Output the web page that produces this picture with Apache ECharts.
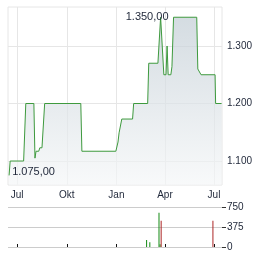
<!DOCTYPE html>
<html><head><meta charset="utf-8">
<script src="https://cdn.jsdelivr.net/npm/echarts@6/dist/echarts.min.js"></script>
<style>html,body{margin:0;padding:0;background:#fff}#c{width:264px;height:255px}</style>
</head><body><div id="c"></div>
<script>
const priceDates = ['2024-06-16','2024-06-18','2024-07-13','2024-07-17','2024-08-01','2024-08-03','2024-08-05','2024-08-10','2024-08-12','2024-08-16','2024-08-21','2024-10-27','2024-10-29','2024-12-31','2025-01-04','2025-01-06','2025-01-07','2025-01-11','2025-01-31','2025-02-02','2025-02-28','2025-03-02','2025-03-19','2025-03-24','2025-03-30','2025-04-03','2025-04-05','2025-04-07','2025-04-12','2025-04-14','2025-04-17','2025-05-30','2025-06-01','2025-06-04','2025-06-07','2025-07-03','2025-07-04','2025-07-15'];
const priceValues = [1075,1100,1100,1200,1200,1105,1117,1117,1123,1123,1200,1200,1117,1117,1133,1149,1149,1173,1173,1200,1200,1270,1270,1350,1250,1250,1300,1250,1250,1264,1350,1350,1260,1260,1250,1250,1200,1200];
const volumeDates = ['2025-02-26','2025-03-04','2025-03-21','2025-03-23','2025-03-25','2025-06-29'];
const volumeValues = [130,90,640,50,490,490];
const volumeDirection = ['up','up','up','up','down','down'];
const xTickDates = ['2024-07-01','2024-10-01','2025-01-01','2025-04-01','2025-07-01'];
const xTickLabels = ['Jul','Okt','Jan','Apr','Jul'];
const yTickValues = [1100,1200,1300];
const volumeTickValues = [0,375,750];
const xRange = ['2024-06-14','2025-07-15T20:00:00'];
const yRange = [1058.3,1367.8];

function ts(s){ return echarts.time.parse(s).getTime(); }
function de(v, dec){
  const s = Number(v).toFixed(dec);
  const parts = s.split('.');
  const i = parts[0].replace(/\B(?=(\d{3})+(?!\d))/g, '.');
  return parts[1] ? i + ',' + parts[1] : i;
}
const xTicks = xTickDates.map(ts);
const font = 'Liberation Sans, Arial, sans-serif';
const txt = '#1e2638';

let maxI = 0, minI = 0;
priceValues.forEach((v,i)=>{ if (v > priceValues[maxI]) maxI = i; if (v < priceValues[minI]) minI = i; });

const chart = echarts.init(document.getElementById('c'), null, {renderer:'canvas'});
chart.setOption({
  animation: false,
  backgroundColor: '#fff',
  grid: [
    {left: 8, right: 42, top: 7, height: 178, show: true, borderColor: '#e6e6e6', borderWidth: 1, backgroundColor: 'transparent', outerBoundsMode: 'none', containLabel: false},
    {left: 8, right: 42, top: 207, height: 40, outerBoundsMode: 'none', containLabel: false}
  ],
  xAxis: [
    {type: 'value', gridIndex: 0, min: ts(xRange[0]), max: ts(xRange[1]),
     axisLine: {show: false}, axisTick: {show: false, customValues: xTicks},
     axisLabel: {customValues: xTicks, margin: 5, fontSize: 10, fontFamily: font, color: txt,
       formatter: v => { const k = xTicks.indexOf(v); return k >= 0 ? xTickLabels[k] : ''; }},
     splitLine: {show: true, lineStyle: {color: '#e6e6e6', width: 1}}},
    {type: 'value', gridIndex: 1, position: 'top', min: ts(xRange[0]), max: ts(xRange[1]),
     axisLine: {show: false}, axisTick: {show: true, length: 3, customValues: xTicks, lineStyle: {color: '#111'}},
     axisLabel: {show: false}, splitLine: {show: false}}
  ],
  yAxis: [
    {type: 'value', gridIndex: 0, position: 'right', min: yRange[0], max: yRange[1],
     axisLine: {show: false}, axisTick: {show: false, customValues: yTickValues},
     axisLabel: {customValues: yTickValues, margin: 5, fontSize: 10, fontFamily: font, color: txt, formatter: v => de(v, 0)},
     splitLine: {show: true, lineStyle: {color: '#e6e6e6', width: 1}}},
    {type: 'value', gridIndex: 1, position: 'right', min: 0, max: 750,
     axisLine: {show: false}, axisTick: {show: true, length: 4, customValues: volumeTickValues, lineStyle: {color: '#333'}},
     axisLabel: {customValues: volumeTickValues, margin: 5, fontSize: 10, fontFamily: font, color: txt, formatter: v => de(v, 0)},
     splitLine: {show: true, lineStyle: {color: '#cccccc', width: 1}}}
  ],
  series: [
    {type: 'line', xAxisIndex: 0, yAxisIndex: 0, showSymbol: false, symbol: 'none',
     data: priceDates.map((d,i)=>[ts(d), priceValues[i]]),
     lineStyle: {color: '#3e9a3e', width: 1},
     areaStyle: {color: new echarts.graphic.LinearGradient(0,0,0,1,[{offset:0,color:'#c2cdd5'},{offset:1,color:'#f5f7f8'}])},
     markPoint: {symbol: 'circle', symbolSize: 0, silent: true,
       data: [
         {coord: [ts(priceDates[maxI]), priceValues[maxI]], value: priceValues[maxI],
          label: {show: true, position: 'inside', offset: [-13.5, 0], formatter: p => de(p.value, 2), fontSize: 11, fontFamily: font, color: txt}},
         {coord: [ts(priceDates[minI]), priceValues[minI]], value: priceValues[minI],
          label: {show: true, position: 'inside', offset: [24.5, -3], formatter: p => de(p.value, 2), fontSize: 11, fontFamily: font, color: txt}}
       ]}},
    {type: 'bar', xAxisIndex: 1, yAxisIndex: 1, barWidth: 1,
     data: volumeDates.map((d,i)=>({value: [ts(d), volumeValues[i]], itemStyle: {color: volumeDirection[i] === 'up' ? '#148a14' : '#ac2626'}}))}
  ]
});
</script></body></html>
